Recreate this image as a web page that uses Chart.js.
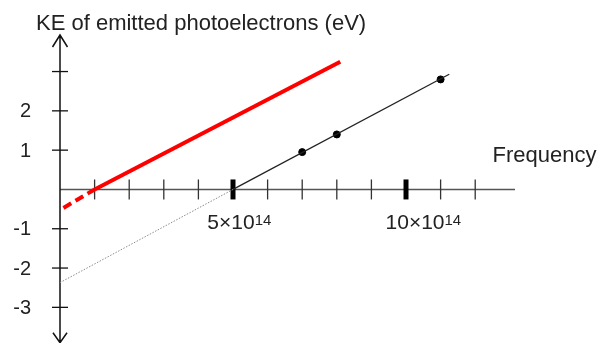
<!DOCTYPE html>
<html>
<head>
<meta charset="utf-8">
<script src="https://cdn.jsdelivr.net/npm/chart.js@4.4.1/dist/chart.umd.min.js"></script>
<style>
html, body { margin: 0; padding: 0; background: #fff; }
#wrap { width: 597px; height: 343px; }
</style>
</head>
<body>
<div id="wrap"><canvas id="peChart" width="597" height="343"></canvas></div>
<script>
// frequency in units of 10^14 Hz, KE in eV
const freqPoints = [7, 8, 11];
const kePoints = [0.95, 1.4, 2.8];

// line through the measured points + extrapolation back to the KE axis
const lineFreq = [5, 11.25];
const lineKE = [0, 2.93];
const extrapFreq = [0, 5];
const extrapKE = [-2.37, 0];

// second metal (red)
const redFreq = [1, 8.1];
const redKE = [0, 3.25];
const redDashFreq = [0.1, 1];
const redDashKE = [-0.47, 0];

const xTicks = [1, 2, 3, 4, 5, 6, 7, 8, 9, 10, 11, 12];
const xMajor = [5, 10];
const yTicks = [-3, -2, -1, 1, 2, 3];
const yLabels = ['-3', '-2', '-1', '1', '2', ''];
const yArrowMin = -3.9;

const FONT = '"Liberation Sans", Arial, sans-serif';

function pts(xs, ys) {
  return xs.map((v, i) => ({x: v, y: ys[i]}));
}

const crossAxes = {
  id: 'crossAxes',
  beforeDatasetsDraw(chart) {
    const ctx = chart.ctx;
    const x = chart.scales.x, y = chart.scales.y;
    const x0 = x.getPixelForValue(0), y0 = y.getPixelForValue(0);
    const yEnd = y.getPixelForValue(yArrowMin);
    ctx.save();
    // horizontal axis
    ctx.strokeStyle = '#555';
    ctx.lineWidth = 1.5;
    ctx.beginPath();
    ctx.moveTo(x0, y0);
    ctx.lineTo(x.right, y0);
    ctx.stroke();
    xTicks.forEach(v => {
      const px = x.getPixelForValue(v);
      const major = xMajor.includes(v);
      ctx.lineWidth = major ? 5 : 1.3;
      ctx.strokeStyle = major ? '#000' : '#333';
      ctx.beginPath();
      ctx.moveTo(px, y0 - 10);
      ctx.lineTo(px, y0 + 10);
      ctx.stroke();
    });
    // vertical axis with open arrow heads
    ctx.strokeStyle = '#111';
    ctx.lineWidth = 1.5;
    ctx.beginPath();
    ctx.moveTo(x0, y.top);
    ctx.lineTo(x0, yEnd);
    ctx.moveTo(x0 - 7.5, y.top + 12);
    ctx.lineTo(x0, y.top);
    ctx.lineTo(x0 + 7.5, y.top + 12);
    ctx.moveTo(x0 - 7, yEnd - 10);
    ctx.lineTo(x0, yEnd);
    ctx.lineTo(x0 + 7, yEnd - 10);
    ctx.stroke();
    ctx.lineWidth = 1.3;
    yTicks.forEach(v => {
      const py = y.getPixelForValue(v);
      ctx.beginPath();
      ctx.moveTo(x0 - 8, py);
      ctx.lineTo(x0 + 8, py);
      ctx.stroke();
    });
    ctx.restore();
  },
  afterDraw(chart) {
    const ctx = chart.ctx;
    const x = chart.scales.x, y = chart.scales.y;
    const x0 = x.getPixelForValue(0), y0 = y.getPixelForValue(0);
    ctx.save();
    ctx.fillStyle = '#222';
    ctx.textBaseline = 'alphabetic';
    ctx.textAlign = 'left';
    ctx.font = '22px ' + FONT;
    ctx.fillText('KE of emitted photoelectrons (eV)', x0 - 24, 29.5);
    ctx.fillText('Frequency', 492.5, y0 - 27.5);

    // y tick labels
    ctx.font = '20px ' + FONT;
    ctx.textAlign = 'right';
    ctx.textBaseline = 'middle';
    yTicks.forEach((v, i) => {
      ctx.fillText(yLabels[i], x0 - 29, y.getPixelForValue(v) + 1);
    });

    // x labels N×10^14 under the major ticks
    ctx.textAlign = 'left';
    ctx.textBaseline = 'alphabetic';
    const nudge = {5: -2, 10: 9};
    xMajor.forEach(v => {
      const px = x.getPixelForValue(v);
      const main = v + '\u00d710';
      ctx.font = '21px ' + FONT;
      const w = ctx.measureText(main).width;
      const left = px - w / 2 + (nudge[v] || 0);
      ctx.fillText(main, left, y0 + 40);
      ctx.font = '15px ' + FONT;
      ctx.fillText('14', left + w, y0 + 35.5);
    });
    ctx.restore();
  }
};

new Chart(document.getElementById('peChart'), {
  type: 'scatter',
  data: {
    datasets: [
      {
        data: pts(extrapFreq, extrapKE),
        showLine: true,
        borderColor: '#8a8a8a',
        borderWidth: 1,
        borderDash: [1.5, 1.5],
        pointRadius: 0
      },
      {
        data: pts(lineFreq, lineKE),
        showLine: true,
        borderColor: '#222',
        borderWidth: 1.3,
        pointRadius: 0
      },
      {
        data: pts(freqPoints, kePoints),
        showLine: false,
        backgroundColor: '#000',
        borderColor: '#000',
        pointRadius: 3.5
      },
      {
        data: pts(redDashFreq, redDashKE),
        showLine: true,
        borderColor: '#ff0000',
        borderWidth: 4,
        borderDash: [9, 5],
        pointRadius: 0
      },
      {
        data: pts(redFreq, redKE),
        showLine: true,
        borderColor: '#ff0000',
        borderWidth: 4,
        pointRadius: 0
      }
    ]
  },
  plugins: [crossAxes],
  options: {
    responsive: false,
    animation: false,
    layout: {
      padding: {left: 60, right: 82, top: 35, bottom: 0}
    },
    plugins: {
      legend: {display: false},
      tooltip: {enabled: false}
    },
    scales: {
      x: {type: 'linear', min: 0, max: 13.15, display: false},
      y: {type: 'linear', min: -3.78, max: 3.93, display: false}
    }
  }
});
</script>
</body>
</html>
